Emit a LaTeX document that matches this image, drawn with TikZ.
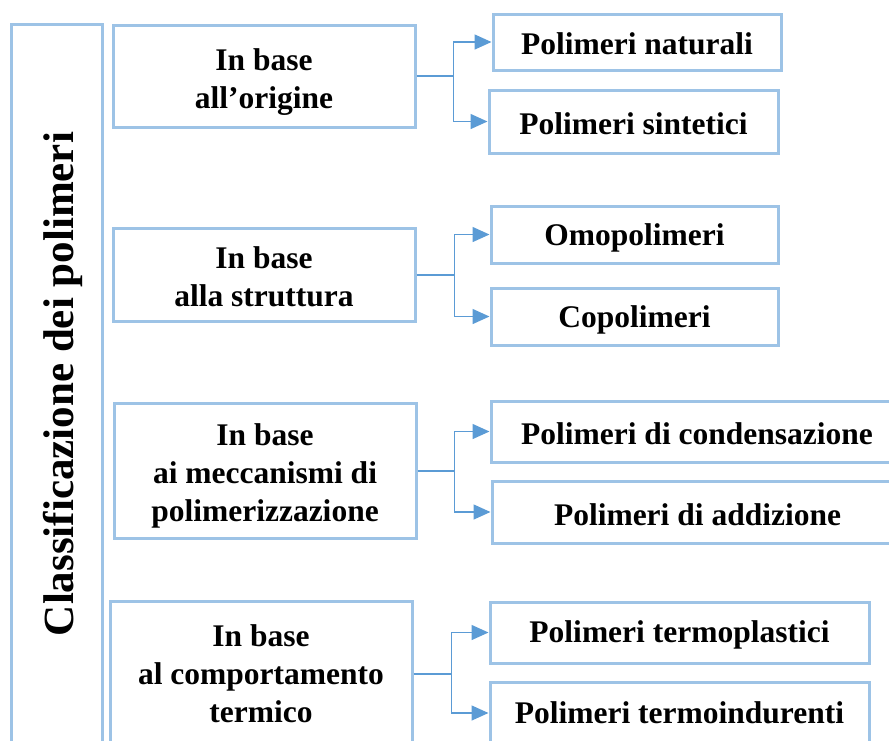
\documentclass[tikz,border=0pt]{standalone}
\usepackage{fontspec}
\setmainfont{Liberation Serif}
\usetikzlibrary{arrows.meta}
\definecolor{boxblue}{RGB}{157,195,230}
\definecolor{lineblue}{RGB}{91,155,213}
\newcommand{\dn}[2]{\raisebox{-#1pt}[\height][\depth]{#2}}
\begin{document}
\begin{tikzpicture}[x=1pt,y=-1pt,
  box/.style={draw=boxblue, line width=3pt, inner sep=0pt, align=center,
    font=\fontsize{31.5}{38}\selectfont\bfseries, text=black},
  title/.style={font=\fontsize{43}{50}\selectfont\bfseries, text=black},
  conn/.style={draw=lineblue, line width=2pt},
  arr/.style={draw=lineblue, line width=1.5pt, -{Triangle[length=17pt,width=15pt]}}
  ]
\useasboundingbox (0,0) rectangle (889,740);
\clip (0,0) rectangle (889,740);
% left tall box
\node[box, minimum width=91pt, minimum height=740pt] (L) at (56.5,394) {};
\node[title, rotate=90, anchor=base] (T) at (73,384) {Classificazione dei polimeri};
% category boxes
\node[box, minimum width=302pt, minimum height=102pt] (A1) at (264,76) {\dn{6}{In base}\\\dn{6}{all’origine}};
\node[box, minimum width=302pt, minimum height=93pt] (A2) at (264,274.5) {\dn{2}{In base}\\\dn{2}{alla struttura}};
\node[box, minimum width=302pt, minimum height=135pt] (A3) at (265,470.5) {\dn{5}{In base}\\\dn{5}{ai meccanismi di}\\\dn{5}{polimerizzazione}};
\node[box, minimum width=302pt, minimum height=146pt] (A4) at (261,674) {In base\\al comportamento\\termico};
% right boxes
\node[box, minimum width=288pt, minimum height=56pt] (R11) at (637,42) {\dn{2}{Polimeri naturali}};
\node[box, minimum width=289pt, minimum height=63pt] (R12) at (633.5,121.5) {\dn{2}{Polimeri sintetici}};
\node[box, minimum width=287pt, minimum height=57pt] (R21) at (634.5,234.5) {\dn{3}{Omopolimeri}};
\node[box, minimum width=287pt, minimum height=57pt] (R22) at (634.5,316.5) {\dn{3}{Copolimeri}};
\node[box, minimum width=412pt, minimum height=61pt] (R31) at (697,431.5) {\dn{2}{Polimeri di condensazione}};
\node[box, minimum width=411pt, minimum height=62pt] (R32) at (697.5,512) {\dn{3}{Polimeri di addizione}};
\node[box, minimum width=379pt, minimum height=61pt] (R41) at (679.5,632.5) {\dn{2}{Polimeri termoplastici}};
\node[box, minimum width=379pt, minimum height=62pt] (R42) at (679.5,713) {Polimeri termoindurenti};
% junctions
\path (A1.east) ++(37,0) coordinate (J1);
\path (A2.east) ++(38,0) coordinate (J2);
\path (A3.east) ++(37,0) coordinate (J3);
\path (A4.east) ++(38,0) coordinate (J4);
% connectors
\draw[conn] (A1) -- (J1);
\draw[arr] (J1) |- (R11);
\draw[arr] (J1) |- (R12);
\draw[conn] (A2) -- (J2);
\draw[arr] (J2) |- (R21);
\draw[arr] (J2) |- (R22);
\draw[conn] (A3) -- (J3);
\draw[arr] (J3) |- (R31);
\draw[arr] (J3) |- (R32);
\draw[conn] (A4) -- (J4);
\draw[arr] (J4) |- (R41);
\draw[arr] (J4) |- (R42);
\end{tikzpicture}
\end{document}
